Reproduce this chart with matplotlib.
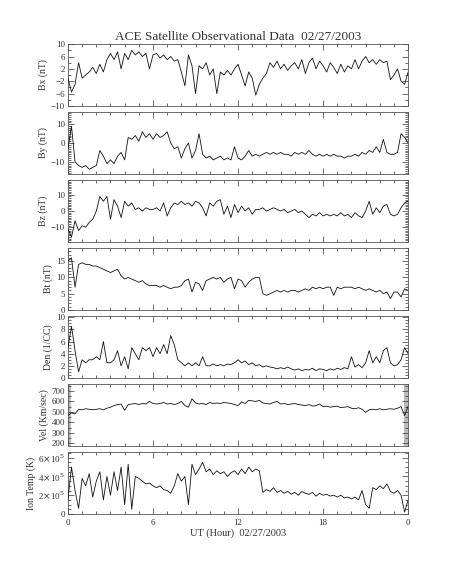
import numpy as np
import matplotlib
matplotlib.use('Agg')
import matplotlib.pyplot as plt
from matplotlib.ticker import MultipleLocator, FixedLocator, FixedFormatter

plt.rcParams['font.family'] = ['Liberation Serif', 'DejaVu Serif']
plt.rcParams['mathtext.fontset'] = 'dejavuserif'

# 15-minute samples, 00:00 .. 24:00 UT
bx = [-1, -5.5, -3, 4, -1, 0, 1, 2.5, 0.5, 3.5, 1, 5, 7, 5, 7.5, 2, 7, 5, 8, 6.5,
      7.5, 6, 7, 2, 6.5, 7, 5.5, 6.5, 5, 6, 4.5, 5, 1, -3.5, 6.5, 3, -6, 3, 2, 4,
      0, 2, -6, 1, 0, 1.5, 0, 2, 3.5, 0, -3.5, 1, -1, -6.5, -3, -1, 0.5, 4, 2.5, 4.5,
      2, 3.5, 1.5, 3, 4, 2, 5, 0.5, 4, 5.5, 2, 4.5, 3, 1, 4, 2.5, 0.5, 3.5, 1, 3,
      2, 5, 2, 4.5, 6, 4, 5, 3.5, 5, 4, 4.5, -1.5, 0, 2, -2, -3, 1]
by = [-3, 9, -10, -12, -13, -12, -14, -13, -12, -4, -7, -11, -9, -11, -7, -5, -9, 3, 2, 4,
      1, 6, 3, 5, 2, 5, 3, 4, 6, 0, -3, -2, -8, -3, 0, -8, -4, 5, -6, -8,
      -7, -9, -8, -7, -9, -8, -9, -2, -8, -9, -7, -4, -7, -6, -7, -6, -5, -6, -5, -6,
      -5, -6, -6, -7, -5, -6, -5, -6, -4, -6, -7, -6, -7, -6, -7, -6, -7, -7, -8, -7,
      -7, -6, -7, -5, -6, -4, -5, -2, -5, 2, -5, -6, -6, -5, 5, 3, 0]
bz = [-11, -16, -6, -12, -9, -10, -7, -5, 0, 9, 6, 9, -5, 7, 3, -4, 6, 3, 5, 1,
      2, 0, 2, 1, 1, 2, 0, 5, -3, 2, 5, 4, 6, 4, 5, 3, 6, 5, 2, -3,
      5, 3, 6, 7, -2, 3, -4, 4, -1, 3, 0, 2, -2, 1, 1, 2, 0, 1, 2, 1,
      0, 1, -1, 0, 1, -1, 0, -2, -4, -2, -3, -1, -3, -2, -3, -2, -3, -1, -3, -2,
      -4, -1, -3, -4, 0, 6, -2, 2, -1, 3, 4, -2, -3, -2, 2, 5, 6]
bt = [15, 16, 7, 14, 14.5, 14, 14, 13.5, 13.5, 13, 12.5, 12, 11.5, 12, 12.5, 10.5, 9.5, 10, 9.5, 9,
      8.5, 9, 8, 7.5, 7.5, 7.5, 7, 7.5, 7, 6.5, 7, 7, 7.5, 9, 9.5, 5.5, 8.5, 8, 6, 9,
      9.5, 10, 9.5, 10, 8.5, 9.5, 10, 6.5, 9.5, 9, 7, 8.5, 9.5, 10, 10, 5, 4.5, 5, 5.5, 6,
      5.5, 6, 5.5, 6, 6, 5.5, 6, 6.5, 6, 7, 6.5, 7, 6.5, 7, 7, 4.5, 7, 6.5, 7, 7,
      7, 6.5, 7, 6.5, 6, 6.5, 6, 5.5, 6, 5, 5.5, 3.5, 5.5, 5.5, 4, 6.5, 6]
den = [5, 8.5, 4.5, 1, 3, 2.5, 3, 3, 3.5, 3, 6, 2.5, 2.5, 3, 4.5, 2, 3.5, 1.5, 5, 4,
       3, 5, 4.5, 5, 3.5, 5, 4, 5.5, 4, 7, 5.5, 3, 2.5, 2, 2.5, 2, 2.5, 2, 3.5, 2,
       2, 2.3, 2, 2.2, 2, 2.3, 2.2, 2.5, 3, 2.5, 2.8, 2.2, 2.5, 2, 2.2, 1.8, 2, 1.8, 1.7, 1.5,
       1.7, 1.5, 1.8, 1.5, 1.3, 1.5, 1.2, 1.4, 1.3, 1.6, 1.2, 1.5, 1.4, 1.2, 1.5, 1.3, 1.6, 1.4, 1.7, 1.5,
       3.5, 1.8, 2.2, 1.7, 2.5, 4.5, 2.5, 3.5, 2.5, 4.5, 5, 2.5, 2, 2.2, 3, 5, 4]
vel = [465, 490, 480, 525, 520, 530, 525, 520, 525, 530, 520, 535, 545, 560, 570, 575, 515, 570, 575, 580,
       570, 580, 575, 600, 580, 575, 580, 590, 575, 580, 570, 580, 600, 560, 545, 625, 585, 575, 580, 570,
       590, 580, 585, 580, 590, 585, 580, 570, 560, 595, 580, 610, 605, 600, 610, 585, 580, 575, 590, 600,
       575, 580, 570, 575, 580, 570, 565, 560, 570, 555, 560, 575, 550, 555, 545, 550, 555, 540, 545, 550,
       535, 530, 540, 525, 495, 520, 525, 520, 530, 520, 525, 530, 525, 535, 550, 465, 555]
ion_temp = [1.5, 5, 2.5, 0.6, 3.8, 3, 4.3, 1.8, 3.5, 4.5, 1.5, 4, 2, 4.5, 2.5, 5, 1, 5.3, 0.5, 4,
            3.8, 3.5, 3.2, 3.3, 3, 2.8, 3, 2.6, 2.5, 2.2, 3, 4.3, 3.5, 4, 1, 5.3, 4.2, 4.8, 5.5, 4.5,
            4.8, 4.2, 4.6, 4.3, 4.5, 4, 4.4, 4.6, 4.2, 4.8, 4.3, 5, 4.5, 4.8, 4.6, 2.3, 2.6, 2.4, 2.8, 2.3,
            2.5, 2.2, 2.4, 2.1, 2.3, 2, 2.4, 2.2, 2.1, 2.3, 1.9, 2.2, 2, 2.1, 1.9, 2, 1.8, 2, 1.7, 1.8,
            1.6, 1.8, 1.5, 2.5, 1, 0.6, 2.8, 2.6, 3, 2.7, 3.2, 2.4, 2.2, 2.5, 2, 0.2, 1.5]
ion_temp = np.array(ion_temp) * 1e5

hour_ticks = [0, 6, 12, 18, 24]
hour_labels = ['0', '6', '12', '18', '0']
vel_gaps = [(0, 0.25), (23.7, 24)]  # shaded edges in the velocity panel

panels = [
    (bx, 'Bx (nT)', (-10, 10), [-10, -6, -2, 2, 6, 10], 2),
    (by, 'By (nT)', (-16.5, 16.5), [-10, 0, 10], 1),
    (bz, 'Bz (nT)', (-19, 19), [-10, 0, 10], 1),
    (bt, 'Bt (nT)', (0, 19), [0, 5, 10, 15], 1),
    (den, 'Den (1/CC)', (0, 10.2), [0, 2, 4, 6, 8, 10], 0.5),
    (vel, 'Vel (Km/sec)', (175, 765), [200, 300, 400, 500, 600, 700], 50),
    (ion_temp, 'Ion Temp (K)', (0, 6.6e5), [0, 2e5, 4e5, 6e5], 0.5e5),
]

fig, axes = plt.subplots(7, 1, figsize=(4.53, 5.66), dpi=100, sharex=True)
fig.subplots_adjust(left=0.150, right=0.901, top=0.922, bottom=0.092, hspace=0.1)

ink = '#333333'
for ax, (vals, label, ylim, yt, ymin) in zip(axes, panels):
    t = np.linspace(0, 24, len(vals))
    ax.plot(t, vals, color='#111111', lw=0.6, zorder=3)
    ax.set_xlim(0, 24)
    ax.set_ylim(*ylim)
    ax.set_ylabel(label, fontsize=7, color=ink, labelpad=2)
    ax.yaxis.set_major_locator(FixedLocator(yt))
    ax.yaxis.set_minor_locator(MultipleLocator(ymin))
    ax.xaxis.set_major_locator(FixedLocator(hour_ticks))
    ax.xaxis.set_minor_locator(MultipleLocator(1))
    ax.tick_params(which='both', direction='in', top=True, right=True,
                   labelsize=6.5, colors=ink, width=0.5, pad=2)
    ax.tick_params(which='major', length=4)
    ax.tick_params(which='minor', length=2)
    for s in ax.spines.values():
        s.set_linewidth(0.6)
        s.set_color('#555555')

for a, b in vel_gaps:
    axes[5].axvspan(a, b, color='#bbbbbb', lw=0, zorder=1)

axes[6].yaxis.set_major_formatter(FixedFormatter(['0', r'2$\times$10$^5$', r'4$\times$10$^5$', r'6$\times$10$^5$']))
axes[6].xaxis.set_major_formatter(FixedFormatter(hour_labels))
axes[6].tick_params(axis='x', pad=4)
axes[6].set_xlabel('UT (Hour)  02/27/2003', fontsize=7.5, color=ink, labelpad=1)
axes[0].set_title('ACE Satellite Observational Data  02/27/2003', fontsize=9.5, color=ink, pad=3)

fig.savefig('out.png', dpi=100)
